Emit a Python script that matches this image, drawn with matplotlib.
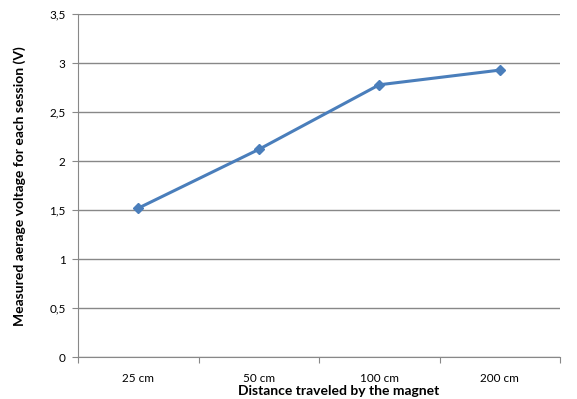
import numpy as np
import matplotlib
matplotlib.use("Agg")
import matplotlib.pyplot as plt
from matplotlib.ticker import FuncFormatter

# data
distances = ["25 cm", "50 cm", "100 cm", "200 cm"]
voltages = [1.52, 2.12, 2.78, 2.93]
y_ticks = [0, 0.5, 1, 1.5, 2, 2.5, 3, 3.5]

plt.rcParams['font.family'] = ['Lato', 'DejaVu Sans']

fig = plt.figure(figsize=(5.77, 3.99), dpi=100)
ax = fig.add_axes([78/577, (399-357)/399, 482/577, (357-14.3)/399])

x = np.arange(len(distances))
ax.plot(x, voltages, color='#4a7ebb', linewidth=2.2, marker='D',
        markersize=5.5, zorder=3)

ax.set_xlim(-0.5, len(distances) - 0.5)
ax.set_ylim(0, 3.5)
ax.set_yticks(y_ticks)
ax.yaxis.set_major_formatter(FuncFormatter(lambda v, p: ('%g' % v).replace('.', ',')))
ax.grid(axis='y', color='#888888', linewidth=1)
ax.set_axisbelow(True)

# category labels sit between the boundary ticks
ax.set_xticks(np.arange(len(distances) + 1) - 0.5)
ax.set_xticklabels([])
ax.set_xticks(x, minor=True)
ax.set_xticklabels(distances, minor=True)
ax.tick_params(axis='x', which='minor', length=0, pad=11.5, labelsize=8.5)
ax.tick_params(axis='x', which='major', length=4, color='#888888')
ax.tick_params(axis='y', length=4, color='#888888', labelsize=8.5, pad=5)

for s in ['top', 'right']:
    ax.spines[s].set_visible(False)
for s in ['left', 'bottom']:
    ax.spines[s].set_color('#888888')

ax.set_xlabel("Distance traveled by the magnet", fontsize=10,
              fontweight='bold')
ax.xaxis.set_label_coords(0.541, -0.099)
ax.xaxis.label.set_va('center')
ax.set_ylabel("Measured aerage voltage for each session (V)", fontsize=10,
              fontweight='bold')
ax.yaxis.set_label_coords(-0.108, 0.5)

fig.savefig("out.png", dpi=100)
